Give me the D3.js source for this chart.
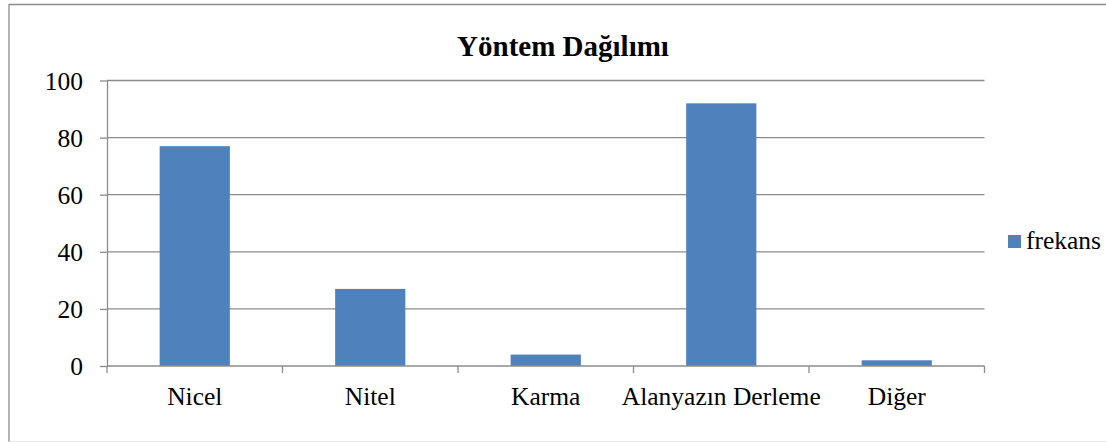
<!DOCTYPE html>
<html>
<head>
<meta charset="utf-8">
<script src="https://cdn.jsdelivr.net/npm/d3@7"></script>
<style>
  html, body { margin: 0; padding: 0; background: #fff; }
  svg { display: block; }
</style>
</head>
<body>
<script>
const title = "Yöntem Dağılımı";
const categories = ["Nicel", "Nitel", "Karma", "Alanyazın Derleme", "Diğer"];
const seriesName = "frekans";
const values = [77, 27, 4, 92, 2];
const yTicks = [0, 20, 40, 60, 80, 100];

const W = 1106, H = 443;
const plotLeft = 107, plotRight = 984.5, plotTop = 80.5, plotBottom = 366;
const font = "'Liberation Serif', 'Times New Roman', serif";
const barColor = "#4F81BD";
const gridColor = "#8c8c8c";

const svg = d3.select("body").append("svg").attr("width", W).attr("height", H);

// outer border
svg.append("line").attr("x1", 9).attr("x2", 9).attr("y1", 4).attr("y2", 442)
  .attr("stroke", "#8c8c8c").attr("stroke-width", 1.3);
svg.append("line").attr("x1", 9).attr("x2", W).attr("y1", 4.5).attr("y2", 4.5)
  .attr("stroke", "#8c8c8c").attr("stroke-width", 1.3);
svg.append("line").attr("x1", 9).attr("x2", W).attr("y1", 441.5).attr("y2", 441.5)
  .attr("stroke", "#e6e6e6").attr("stroke-width", 1);

const x = d3.scaleBand().domain(categories).range([plotLeft, plotRight])
  .paddingInner(0.6).paddingOuter(0.3);
const y = d3.scaleLinear().domain([0, 100]).range([plotBottom, plotTop]);

// gridlines
svg.append("g").selectAll("line").data(yTicks.filter(d => d > 0)).join("line")
  .attr("x1", plotLeft).attr("x2", plotRight)
  .attr("y1", d => y(d)).attr("y2", d => y(d))
  .attr("stroke", gridColor).attr("stroke-width", 1.3);

// bars
svg.append("g").selectAll("rect").data(values).join("rect")
  .attr("x", (d, i) => x(categories[i]))
  .attr("width", x.bandwidth())
  .attr("y", d => y(d))
  .attr("height", d => y(0) - y(d))
  .attr("fill", barColor);

// y axis
const yAxis = svg.append("g").attr("transform", `translate(${plotLeft},0)`)
  .call(d3.axisLeft(y).tickValues(yTicks).tickSize(7).tickPadding(17).tickSizeOuter(0));
yAxis.select(".domain").attr("stroke", gridColor).attr("stroke-width", 1.3);
yAxis.selectAll(".tick line").attr("stroke", gridColor).attr("stroke-width", 1.3);
yAxis.selectAll(".tick text").attr("font-family", font).attr("font-size", 25.5)
  .attr("fill", "#000").attr("dy", "0.34em");

// x axis
const step = x.step();
const boundaries = d3.range(categories.length + 1).map(i => plotLeft + i * step);
const xAxis = svg.append("g");
xAxis.append("line").attr("x1", plotLeft).attr("x2", plotRight).attr("y1", plotBottom).attr("y2", plotBottom)
  .attr("stroke", gridColor).attr("stroke-width", 1.3);
xAxis.selectAll("line.tk").data(boundaries).join("line").attr("class", "tk")
  .attr("x1", d => d).attr("x2", d => d).attr("y1", plotBottom).attr("y2", plotBottom + 7)
  .attr("stroke", gridColor).attr("stroke-width", 1.3);
xAxis.selectAll("text").data(categories).join("text")
  .attr("x", d => x(d) + x.bandwidth() / 2).attr("y", 405)
  .attr("text-anchor", "middle").attr("font-family", font).attr("font-size", 25.5)
  .attr("fill", "#000").text(d => d);

// title
svg.append("text").attr("x", 563).attr("y", 56).attr("text-anchor", "middle")
  .attr("font-family", font).attr("font-size", 29).attr("font-weight", "bold")
  .attr("fill", "#000").text(title);

// legend
svg.append("rect").attr("x", 1008).attr("y", 235).attr("width", 13).attr("height", 13)
  .attr("fill", barColor);
svg.append("text").attr("x", 1026).attr("y", 249).attr("font-family", font)
  .attr("font-size", 25.5).attr("fill", "#000").text(seriesName);
</script>
</body>
</html>
